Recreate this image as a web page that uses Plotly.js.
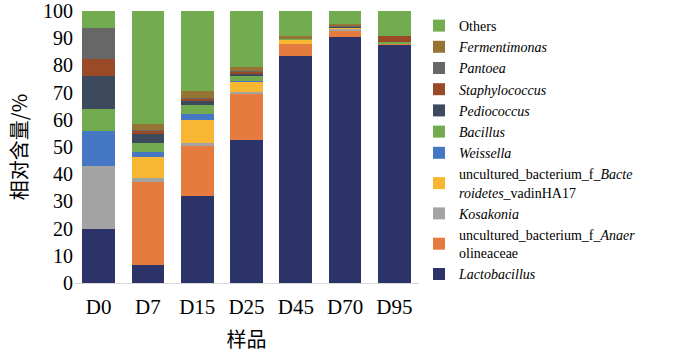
<!DOCTYPE html>
<html>
<head>
<meta charset="utf-8">
<script src="https://cdn.plot.ly/plotly-3.0.1.min.js"></script>
<style>html,body{margin:0;padding:0;background:#fff;}#chart{width:677px;height:353px;}</style>
</head>
<body>
<div id="chart"></div>
<script>
var samples = ['D0', 'D7', 'D15', 'D25', 'D45', 'D70', 'D95'];

var lactobacillus   = [20.0, 6.7, 32.0, 52.6, 83.6, 90.5, 87.6];
var anaerolineaceae = [0.0, 30.4, 18.5, 16.9, 4.2, 2.0, 0.2];
var kosakonia       = [23.0, 1.5, 1.1, 0.8, 0.2, 0.8, 0.1];
var bacteroidetes   = [0.0, 7.6, 8.2, 3.6, 1.4, 0.3, 0.1];
var weissella       = [13.0, 1.9, 2.5, 0.5, 0.1, 0.1, 0.0];
var bacillus        = [8.0, 3.5, 3.0, 1.8, 0.1, 0.2, 0.6];
var pediococcus     = [12.0, 3.0, 1.5, 0.7, 0.1, 0.1, 0.0];
var staphylococcus  = [6.3, 1.2, 0.9, 0.6, 0.1, 0.1, 2.2];
var pantoea         = [11.5, 0.3, 0.5, 0.4, 0.0, 0.3, 0.0];
var fermentimonas   = [0.0, 2.5, 2.3, 1.4, 1.1, 0.8, 0.1];
var others          = [6.2, 41.4, 29.5, 20.7, 9.0, 4.8, 9.1];

var yTicks = [0, 10, 20, 30, 40, 50, 60, 70, 80, 90, 100];

var series = [
  {name: '<i>Lactobacillus</i>', y: lactobacillus, color: '#2b3368'},
  {name: 'uncultured_bacterium_f_<i>Anaer</i><br>olineaceae', y: anaerolineaceae, color: '#e67b3f'},
  {name: '<i>Kosakonia</i>', y: kosakonia, color: '#a3a3a3'},
  {name: 'uncultured_bacterium_f_<i>Bacte</i><br><i>roidetes</i>_vadinHA17', y: bacteroidetes, color: '#f7b733'},
  {name: '<i>Weissella</i>', y: weissella, color: '#4577c4'},
  {name: '<i>Bacillus</i>', y: bacillus, color: '#72ab4f'},
  {name: '<i>Pediococcus</i>', y: pediococcus, color: '#3d4a5e'},
  {name: '<i>Staphylococcus</i>', y: staphylococcus, color: '#9b4a28'},
  {name: '<i>Pantoea</i>', y: pantoea, color: '#676767'},
  {name: '<i>Fermentimonas</i>', y: fermentimonas, color: '#957434'},
  {name: 'Others', y: others, color: '#72ab50'}
];

var traces = series.map(function (s) {
  return {
    type: 'bar',
    x: samples,
    y: s.y,
    name: s.name,
    marker: {color: s.color, line: {width: 0}},
    hoverinfo: 'skip'
  };
});

var serif = 'Liberation Serif';
var cjk = 'Noto Sans CJK SC';

var layout = {
  width: 677,
  height: 353,
  barmode: 'stack',
  bargap: 0.335,
  paper_bgcolor: '#ffffff',
  plot_bgcolor: '#ffffff',
  font: {family: serif},
  margin: {l: 74, r: 235, t: 11, b: 70, pad: 0},
  showlegend: true,
  legend: {
    xref: 'container', yref: 'container',
    x: 419 / 677, xanchor: 'left',
    y: 1 - 150 / 353, yanchor: 'middle',
    maxheight: 350,
    traceorder: 'reversed',
    tracegroupgap: 0,
    bgcolor: 'rgba(0,0,0,0)',
    borderwidth: 0,
    font: {family: serif, size: 14, color: '#000'}
  },
  xaxis: {
    type: 'category',
    showgrid: false,
    zeroline: false,
    showline: true,
    linecolor: '#d9d9d9',
    linewidth: 1,
    ticks: '',
    ticklabelstandoff: 5,
    tickfont: {family: serif, size: 21, color: '#000'},
    title: {text: '样品', font: {family: cjk, size: 20, color: '#000'}, standoff: 23},
    automargin: false
  },
  yaxis: {
    range: [0, 100],
    tickvals: yTicks,
    ticktext: yTicks.map(String),
    ticklabeloverflow: 'allow',
    showgrid: false,
    zeroline: false,
    showline: false,
    ticks: '',
    tickfont: {family: serif, size: 20, color: '#000'},
    title: {text: '相对含量/%', font: {family: cjk, size: 20, color: '#000'}, standoff: 10},
    automargin: false
  }
};

Plotly.newPlot('chart', traces, layout, {staticPlot: true, displayModeBar: false});
</script>
</body>
</html>
